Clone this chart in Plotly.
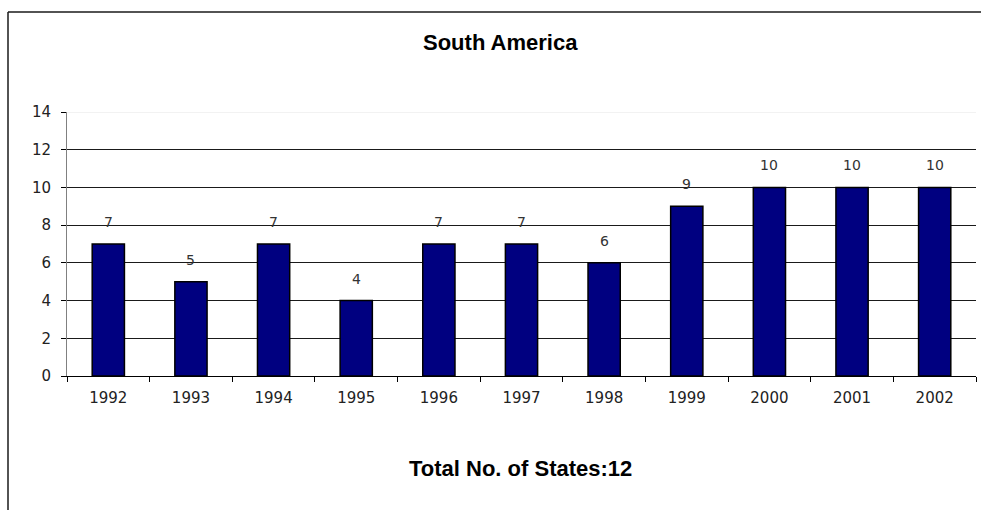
import plotly.graph_objects as go

years = ["1992", "1993", "1994", "1995", "1996", "1997", "1998", "1999", "2000", "2001", "2002"]
states = [7, 5, 7, 4, 7, 7, 6, 9, 10, 10, 10]
y_ticks = [0, 2, 4, 6, 8, 10, 12, 14]
title_text = "South America"
footer_text = "Total No. of States:12"

W, H = 981, 510
ML, MR, MT, MB = 67, 5, 112, 134
pw = W - ML - MR
ph = H - MT - MB

def px_x(px):
    return (px - ML) / pw

def px_y(py):
    return (H - MB - py) / ph

fig = go.Figure()
fig.add_trace(go.Bar(
    x=years, y=states, width=0.39,
    marker=dict(color="#000080", line=dict(color="#000000", width=1.5)),
    hoverinfo="skip",
))

lab_font = "DejaVu Sans"
annotations = []
for i, v in enumerate(states):
    annotations.append(dict(x=i, y=v, xref="x", yref="y", text=str(v), showarrow=False,
                            yshift=22, xanchor="center", yanchor="middle",
                            font=dict(family=lab_font, size=14, color="#333333")))
annotations.append(dict(xref="paper", yref="paper", x=px_x(500), y=px_y(43),
                        xanchor="center", yanchor="middle", text="<b>" + title_text + "</b>",
                        showarrow=False, font=dict(family="Liberation Sans", size=22, color="#000000")))
annotations.append(dict(xref="paper", yref="paper", x=px_x(520), y=px_y(468),
                        xanchor="center", yanchor="middle", text="<b>" + footer_text + "</b>",
                        showarrow=False, font=dict(family="Liberation Sans", size=22, color="#000000")))

shapes = [
    # outer frame (left and top edges)
    dict(type="line", xref="paper", yref="paper", x0=px_x(8), x1=px_x(8), y0=px_y(12), y1=px_y(515),
         line=dict(color="#1a1a1a", width=1.5)),
    dict(type="line", xref="paper", yref="paper", x0=px_x(8), x1=px_x(990), y0=px_y(12), y1=px_y(12),
         line=dict(color="#1a1a1a", width=1.5)),
    # light top gridline
    dict(type="line", xref="paper", yref="y", x0=0, x1=1, y0=y_ticks[-1], y1=y_ticks[-1],
         line=dict(color="#e6e6e6", width=1), layer="above"),
]

fig.update_layout(
    width=W, height=H,
    margin=dict(l=ML, r=MR, t=MT, b=MB),
    paper_bgcolor="white", plot_bgcolor="white",
    showlegend=False,
    annotations=annotations,
    shapes=shapes,
    xaxis=dict(
        type="category", categoryorder="array", categoryarray=years,
        range=[-0.5, len(years) - 0.5], autorange=False,
        showgrid=False, showline=True, linecolor="#000000", linewidth=1,
        ticks="outside", tickson="boundaries", ticklen=5, tickcolor="#000000",
        tickfont=dict(family=lab_font, size=15, color="#222222"), tickangle=0,
        ticklabelstandoff=8,
        fixedrange=True,
    ),
    yaxis=dict(
        range=[0, 14], autorange=False, tickvals=y_ticks, showgrid=True, gridcolor="#1a1a1a", gridwidth=1,
        showline=True, linecolor="#808080", linewidth=1, zeroline=False,
        ticks="outside", ticklen=5, tickcolor="#000000",
        tickfont=dict(family=lab_font, size=15, color="#222222"),
        ticklabelstandoff=7,
        fixedrange=True,
    ),
    bargap=0.6,
)

fig.write_html("out.html")
